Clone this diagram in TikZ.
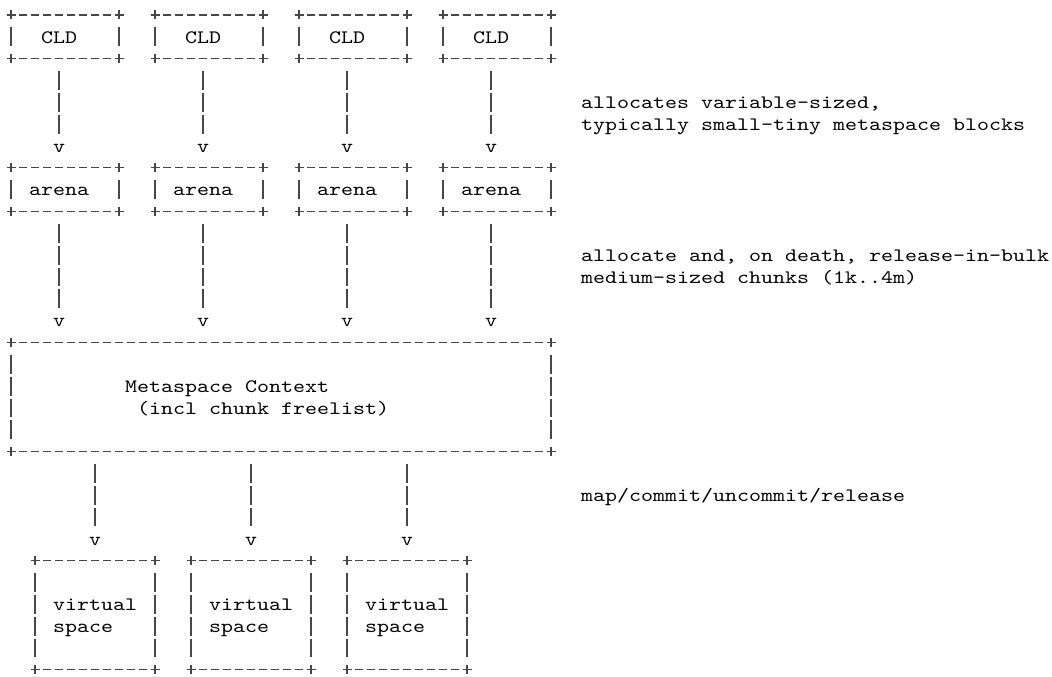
\documentclass[tikz,border=0pt]{standalone}
\usepackage{fontspec}
% Courier-like typewriter face, stretched to a 12pt character pitch
\newfontfamily\asciifont{lmmono10-regular}[Extension=.otf, FakeStretch=1.2030]
\newcommand\asciitext{\asciifont\fontsize{19}{21.83}\selectfont}
% grid helpers: column start x, row baseline y (1 unit = 1pt)
\newcommand\gx[1]{(5+12*(#1))}
\newcommand\gb[1]{(655.8-21.83*(#1))}
\tikzset{
  ascii/.style={draw=black!72, line width=1.1pt},
  hside/.style={ascii, shorten <=8pt, shorten >=8pt, dash pattern=on 8pt off 4pt},
  vside/.style={ascii, shorten <=12.43pt, shorten >=12.43pt, dash pattern=on 18.8pt off 3.03pt},
  pipe/.style={ascii, shorten <=12.43pt, shorten >=34.26pt, dash pattern=on 18.8pt off 3.03pt},
  vtip/.style={font=\asciitext, inner sep=0pt, anchor=base, yshift=15.63pt, text=black},
  lbl/.style={font=\asciitext, inner sep=0pt, anchor=base west, text=black},
  boxshape/.style={rectangle, draw=none, inner sep=0pt, outer sep=0pt},
}
% \asciibox{name}{c0}{r0}{c1}{r1}: corners ('+') at column/row centres
\newcommand\asciibox[5]{%
  \node[boxshape, minimum width={(#4-#2)*12pt}, minimum height={(#5-#3)*21.83pt}]
    (#1) at ({11+6*(#2+#4)}, {662-21.83*(#3+#5)/2}) {};
  \draw[hside] (#1.north west) -- (#1.north east);
  \draw[hside] (#1.south west) -- (#1.south east);
  \draw[vside] (#1.north west) -- (#1.south west);
  \draw[vside] (#1.north east) -- (#1.south east);
  \foreach \a in {north west,north east,south west,south east}
    \draw[ascii] (#1.\a) +(-4.5,0) -- +(4.5,0) (#1.\a) +(0,-4.5) -- +(0,4.5);
}
\begin{document}
\begin{tikzpicture}[x=1pt,y=1pt]
\path[fill=white,use as bounding box] (0,0) rectangle (1052,677);

% CLD boxes
\asciibox{cld1}{0}{0}{9}{2}
\asciibox{cld2}{12}{0}{21}{2}
\asciibox{cld3}{24}{0}{33}{2}
\asciibox{cld4}{36}{0}{45}{2}
\node[lbl] (cldt1) at ({\gx{3}},{\gb{1}}) {CLD};
\node[lbl] (cldt2) at ({\gx{15}},{\gb{1}}) {CLD};
\node[lbl] (cldt3) at ({\gx{27}},{\gb{1}}) {CLD};
\node[lbl] (cldt4) at ({\gx{39}},{\gb{1}}) {CLD};

% arena boxes
\asciibox{arena1}{0}{7}{9}{9}
\asciibox{arena2}{12}{7}{21}{9}
\asciibox{arena3}{24}{7}{33}{9}
\asciibox{arena4}{36}{7}{45}{9}
\node[lbl] (arenat1) at ({\gx{2}},{\gb{8}}) {arena};
\node[lbl] (arenat2) at ({\gx{14}},{\gb{8}}) {arena};
\node[lbl] (arenat3) at ({\gx{26}},{\gb{8}}) {arena};
\node[lbl] (arenat4) at ({\gx{38}},{\gb{8}}) {arena};

% Metaspace context
\asciibox{ctx}{0}{15}{45}{20}
\node[lbl] (ctxt1) at ({\gx{10}},{\gb{17}}) {Metaspace Context};
\node[lbl] (ctxt2) at ({\gx{11}},{\gb{18}}) {(incl chunk freelist)};

% virtual spaces
\asciibox{vs1}{2}{25}{12}{30}
\asciibox{vs2}{15}{25}{25}{30}
\asciibox{vs3}{28}{25}{38}{30}
\foreach \i/\c in {1/4,2/17,3/30}{
  \node[lbl] (vsa\i) at ({\gx{\c}},{\gb{27}}) {virtual};
  \node[lbl] (vsb\i) at ({\gx{\c}},{\gb{28}}) {space};
}

% connectors CLD -> arena
\foreach \i in {1,2,3,4}{
  \draw[pipe] ([xshift=-6pt]cld\i.south) -- ([xshift=-6pt]arena\i.north) node[vtip] (va\i) {v};
}
% connectors arena -> context
\foreach \i in {1,2,3,4}{
  \coordinate (ab\i) at ([xshift=-6pt]arena\i.south);
  \draw[pipe] (ab\i) -- (ab\i |- ctx.north) node[vtip] (vb\i) {v};
}
% connectors context -> virtual spaces
\foreach \i in {1,2,3}{
  \draw[pipe] (vs\i.north |- ctx.south) -- (vs\i.north) node[vtip] (vc\i) {v};
}

% annotations
\node[lbl] (ann1) at ({\gx{48}},{\gb{4}}) {allocates variable-sized,};
\node[lbl] (ann2) at ({\gx{48}},{\gb{5}}) {typically small-tiny metaspace blocks};
\node[lbl] (ann3) at ({\gx{48}},{\gb{11}}) {allocate and, on death, release-in-bulk};
\node[lbl] (ann4) at ({\gx{48}},{\gb{12}}) {medium-sized chunks (1k..4m)};
\node[lbl] (ann5) at ({\gx{48}},{\gb{22}}) {map/commit/uncommit/release};
\end{tikzpicture}
\end{document}
